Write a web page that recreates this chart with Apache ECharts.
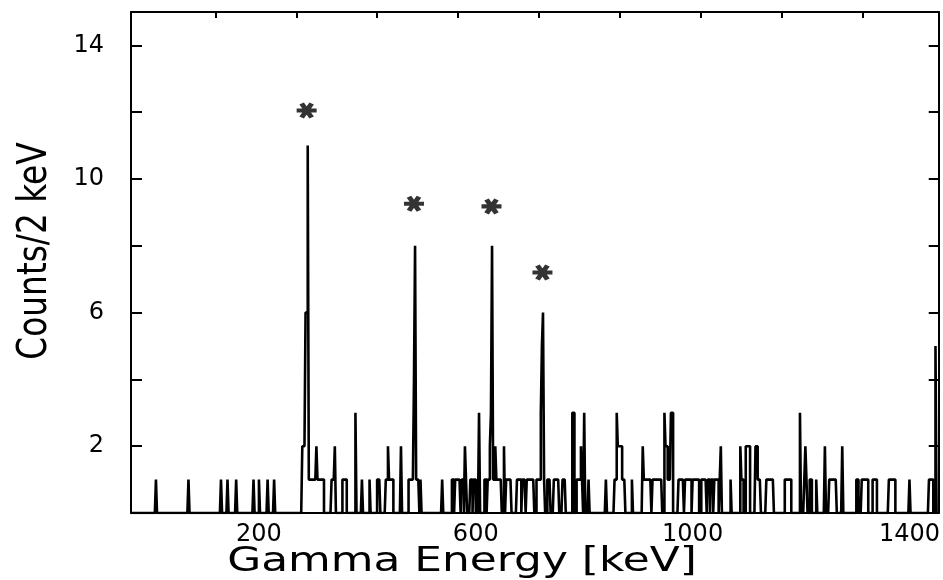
<!DOCTYPE html>
<html>
<head>
<meta charset="utf-8">
<title>Gamma spectrum</title>
<script src="https://cdn.jsdelivr.net/npm/echarts@6/dist/echarts.min.js"></script>
<style>
  html, body { margin: 0; padding: 0; background: #fff; }
  #chart { width: 943px; height: 580px; }
</style>
</head>
<body>
<div id="chart"></div>
<script>
// Non-empty 2 keV bins (left edge in keV) and their counts; every other bin is 0.
const hitKeV = [
  10, 70, 130, 142, 158, 190, 200, 216, 228,
  280, 282, 284, 286, 288, 290, 292, 294, 296, 298, 300, 302, 304, 306, 308, 310, 312, 314, 316, 318,
  334, 336, 338, 340, 354, 356, 358, 360, 378, 390, 404, 418, 420, 422,
  434, 436, 438, 440, 442, 444, 446, 462,
  476, 478, 480, 482, 484, 486, 488, 490, 492, 494, 498, 538,
  556, 558, 562, 564, 566, 568, 570, 574, 576, 580, 582, 590, 592, 596, 598, 606,
  616, 618, 622, 624, 626, 628, 630, 632, 634, 636, 638, 640, 642, 644, 646, 652,
  656, 658, 660, 662, 664, 676, 678, 680, 682,
  686, 688, 690, 694, 696, 698, 700, 702, 704, 706,
  712, 714, 716, 718, 720, 722, 724, 726, 732, 734, 736,
  744, 746, 748, 750, 752, 760, 762, 764, 778, 780,
  786, 788, 790, 792, 794, 796, 800, 808, 840,
  856, 858, 860, 862, 864, 866, 868, 870, 872, 874, 888,
  908, 910, 912, 914, 916, 918, 920, 922,
  926, 928, 930, 932, 934, 936, 938, 940, 942,
  948, 950, 952, 954, 956, 958, 960, 962,
  974, 976, 978, 980, 982, 986, 988, 990, 992, 994, 996,
  1000, 1002, 1004, 1006, 1008, 1010, 1016, 1018, 1020, 1022, 1024,
  1028, 1030, 1034, 1036, 1040, 1042, 1044, 1046, 1050, 1052, 1070,
  1088, 1090, 1092, 1098, 1100, 1102, 1104, 1116, 1118, 1120, 1122, 1124,
  1136, 1138, 1140, 1142, 1144, 1146, 1148, 1170, 1172, 1174, 1176, 1178, 1180,
  1198, 1206, 1208, 1210, 1216, 1218, 1228, 1244,
  1252, 1254, 1256, 1258, 1260, 1262, 1264, 1276, 1302, 1304,
  1312, 1314, 1316, 1318, 1320, 1322, 1332, 1334, 1336, 1338,
  1362, 1364, 1366, 1368, 1370, 1372, 1400, 1436, 1438, 1440, 1442, 1448
];
const hitCounts = [
  1, 1, 1, 1, 1, 1, 1, 1, 1,
  2, 2, 2, 6, 6, 11, 1, 1, 1, 1, 1, 1, 1, 2, 1, 1, 1, 1, 1, 1,
  1, 1, 1, 2, 1, 1, 1, 1, 3, 1, 1, 1, 1, 1,
  1, 1, 2, 1, 1, 1, 1, 2,
  1, 1, 1, 1, 1, 4, 8, 1, 1, 1, 1, 1,
  1, 1, 1, 1, 1, 1, 1, 1, 1, 2, 1, 1, 1, 1, 1, 3,
  1, 1, 1, 1, 2, 3, 8, 1, 1, 2, 1, 1, 1, 1, 1, 2,
  1, 1, 1, 1, 1, 1, 1, 1, 1,
  1, 1, 1, 1, 1, 1, 1, 1, 1, 1,
  1, 1, 1, 1, 3, 5, 6, 1, 1, 1, 1,
  1, 1, 1, 1, 1, 1, 1, 1, 3, 3,
  1, 1, 1, 1, 2, 1, 3, 1, 1,
  1, 1, 3, 2, 2, 2, 2, 1, 1, 1, 1,
  2, 1, 1, 1, 1, 1, 1, 1,
  1, 1, 1, 1, 1, 1, 1, 1, 1,
  3, 2, 2, 1, 1, 1, 3, 3,
  1, 1, 1, 1, 1, 1, 1, 1, 1, 1, 1,
  1, 1, 1, 1, 1, 1, 1, 1, 1, 1, 1,
  1, 1, 1, 1, 1, 1, 1, 1, 1, 2, 1,
  2, 1, 1, 2, 2, 2, 2, 2, 2, 1, 1, 1,
  1, 1, 1, 1, 1, 1, 1, 1, 1, 1, 1, 1, 1,
  3, 1, 2, 1, 1, 1, 1, 2,
  1, 1, 1, 1, 1, 1, 1, 2, 1, 1,
  1, 1, 1, 1, 1, 1, 1, 1, 1, 1,
  1, 1, 1, 1, 1, 1, 1, 1, 1, 1, 1, 5
];
// asterisks marking the identified lines
const starKeV = [288, 486, 629, 723];
const starCounts = [12.05, 9.26, 9.18, 7.2];

const xLabelKeV = [200, 600, 1000, 1400];
const topTickKeV = [120, 269, 418, 567, 716, 866, 1015, 1164, 1314];
const yLabelCounts = [2, 6, 10, 14];
const yTickCounts = [2, 4, 6, 8, 10, 12, 14];

const binWidth = 2;
const xMin = -36, xMax = 1454;

// expand sparse hits into the full step histogram
const countAt = new Map(hitKeV.map((e, i) => [e, hitCounts[i]]));
const steps = [];
for (let e = xMin; e < xMax; e += binWidth) steps.push([e, countAt.get(e) || 0]);
steps.push([xMax, 0]);

// six-armed asterisk, all arms wound the same way so the overlaps stay filled
const STAR = 'path://M0,37L100,37L100,63L0,63Z' +
  'M13.74,13.2L36.26,0.2L86.26,86.8L63.74,99.8Z' +
  'M36.26,99.8L13.74,86.8L63.74,0.2L86.26,13.2Z';

const frame = { show: true, onZero: false, lineStyle: { color: '#000', width: 2 } };
const labelFont = { color: '#000', fontSize: 24, fontFamily: 'DejaVu Sans', formatter: v => String(v) };

const chart = echarts.init(document.getElementById('chart'));
chart.setOption({
  animation: false,
  backgroundColor: '#fff',
  grid: { left: 131, right: 1, top: 12, bottom: 67 },
  xAxis: [
    {
      type: 'value', position: 'bottom', min: xMin, max: xMax,
      axisLine: frame,
      axisTick: { show: false },
      splitLine: { show: false },
      axisLabel: Object.assign({ customValues: xLabelKeV, margin: 10 }, labelFont)
    },
    {
      type: 'value', position: 'top', min: xMin, max: xMax,
      axisLine: frame,
      axisTick: { show: true, inside: true, length: 6, customValues: topTickKeV,
        lineStyle: { color: '#000', width: 2 } },
      splitLine: { show: false },
      axisLabel: { show: false }
    }
  ],
  yAxis: [
    {
      type: 'value', position: 'left', min: 0, max: 15,
      axisLine: frame,
      axisTick: { show: true, inside: true, length: 11, customValues: yTickCounts,
        lineStyle: { color: '#000', width: 2 } },
      splitLine: { show: false },
      axisLabel: Object.assign({ customValues: yLabelCounts, margin: 27 }, labelFont)
    },
    {
      type: 'value', position: 'right', min: 0, max: 15,
      axisLine: frame,
      axisTick: { show: true, inside: true, length: 10, customValues: yTickCounts,
        lineStyle: { color: '#000', width: 2 } },
      splitLine: { show: false },
      axisLabel: { show: false }
    }
  ],
  graphic: [
    {
      type: 'text', x: 462, y: 562, scaleX: 1.29,
      style: { text: 'Gamma Energy [keV]', font: '34px "DejaVu Sans"', fill: '#000',
        align: 'center', verticalAlign: 'middle' }
    },
    {
      type: 'text', x: 35, y: 251, rotation: Math.PI / 2, scaleX: 0.8,
      style: { text: 'Counts/2 keV', font: '41px "DejaVu Sans"', fill: '#000',
        align: 'center', verticalAlign: 'middle' }
    }
  ],
  series: [
    {
      type: 'line', step: 'end', data: steps, symbol: 'none', silent: true,
      lineStyle: { color: '#000', width: 2.6 }
    },
    {
      type: 'scatter', data: starKeV.map((e, i) => [e, starCounts[i]]),
      symbol: STAR, symbolSize: [20, 16], silent: true,
      itemStyle: { color: '#000' }
    }
  ]
});
</script>
</body>
</html>
